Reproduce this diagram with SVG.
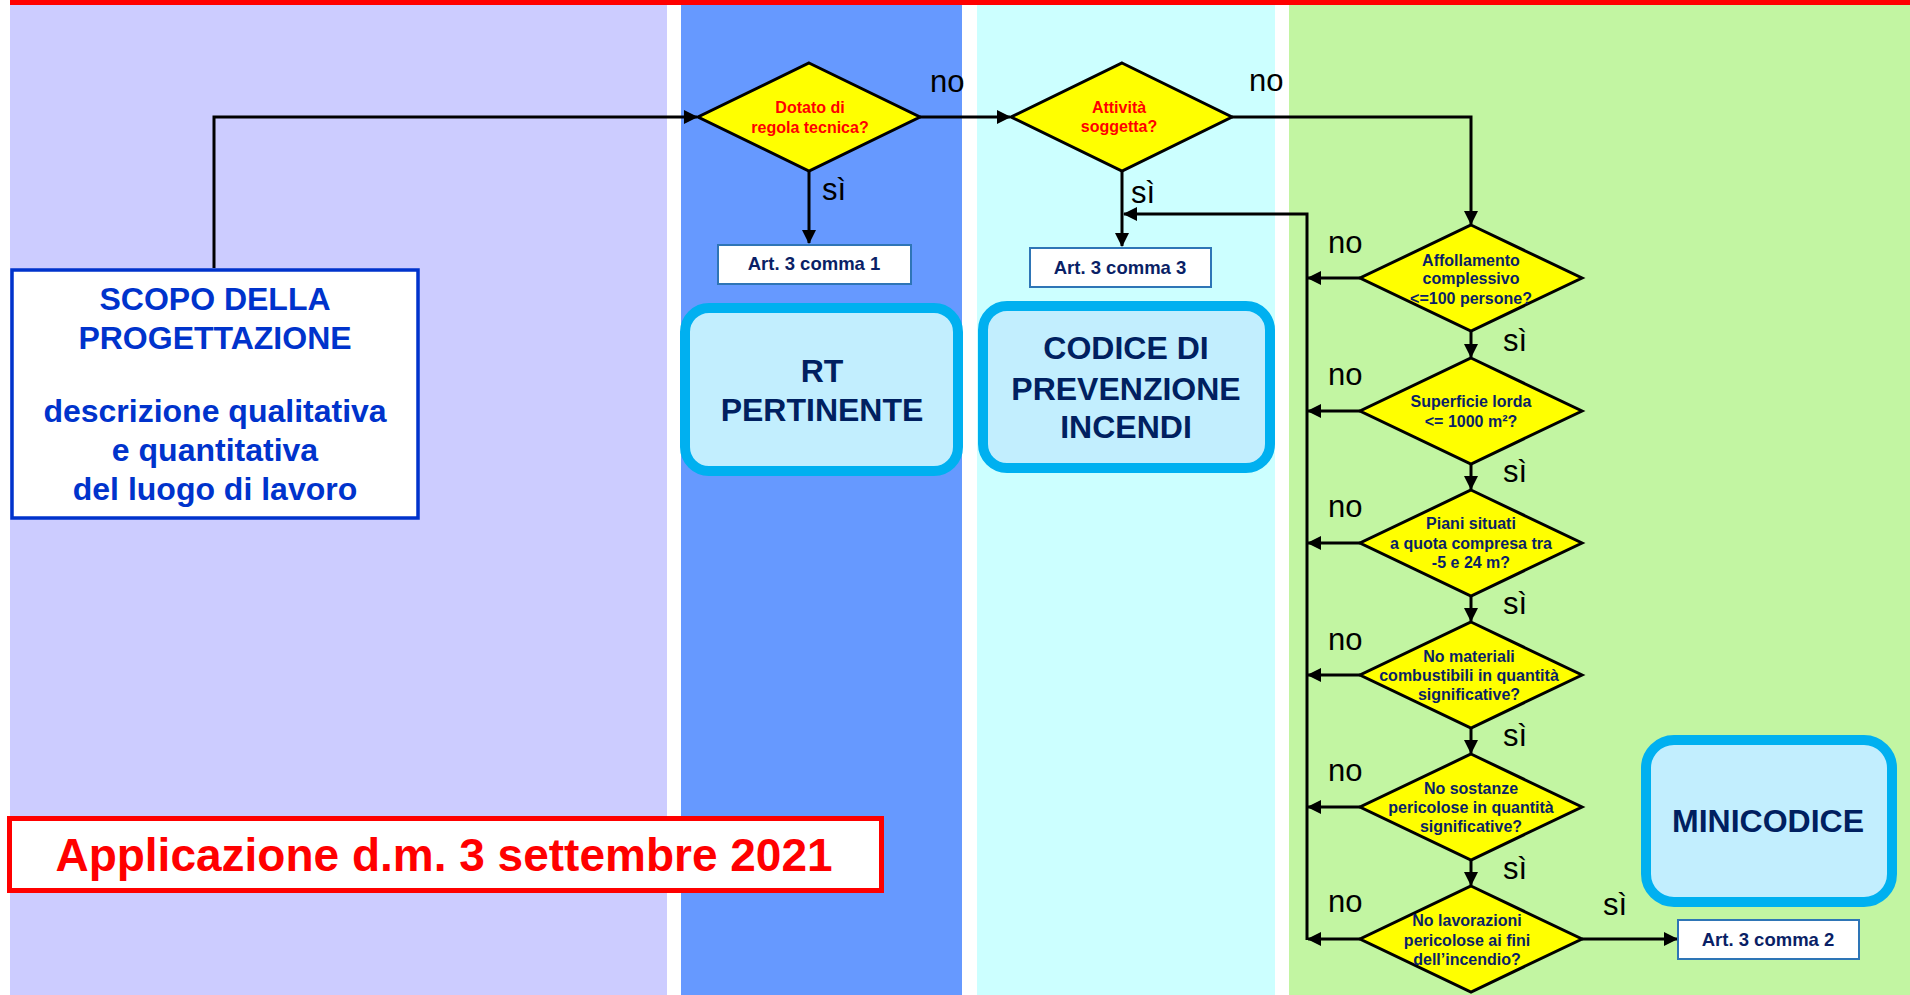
<svg xmlns="http://www.w3.org/2000/svg" width="1910" height="995" viewBox="0 0 1910 995">
<defs>
<marker id="arr" markerUnits="userSpaceOnUse" markerWidth="14" markerHeight="14" refX="13" refY="7" orient="auto">
<path d="M0,0 L14,7 L0,14 z" fill="#000"/>
</marker>
<style>
text{font-family:"Liberation Sans",Arial,sans-serif;}
.lbl{font-size:31px;fill:#000;}
.dq{font-size:16px;font-weight:bold;text-anchor:middle;fill:#0a1f66;}
.dr{font-size:16px;font-weight:bold;text-anchor:middle;fill:#ff0000;}
.dia{fill:#ffff00;stroke:#000;stroke-width:3;stroke-linejoin:miter;}
.art{fill:#fff;stroke:#2e75b6;stroke-width:2;}
.artt{font-size:18.5px;font-weight:bold;text-anchor:middle;fill:#0a1f66;}
.rb{fill:#c2eefe;stroke:#00b0f0;stroke-width:10;}
.rbt{font-size:32px;font-weight:bold;text-anchor:middle;fill:#002060;}
.con{fill:none;stroke:#000;stroke-width:3;}
.sc{font-size:32px;font-weight:bold;text-anchor:middle;fill:#0033cc;}
</style>
</defs>
<rect x="0" y="0" width="1910" height="995" fill="#fff"/>
<g id="panels">
<rect x="10" y="0" width="657" height="995" fill="#ccccff"/>
<rect x="681" y="0" width="281" height="995" fill="#6699ff"/>
<rect x="977" y="0" width="298" height="995" fill="#ccffff"/>
<rect x="1289" y="0" width="621" height="995" fill="#c2f5a2"/>
<rect x="10" y="0" width="1900" height="5" fill="#ff0000"/>
</g>
<g id="connectors">
<path class="con" d="M214,268 V117 H697" marker-end="url(#arr)"/>
<path class="con" d="M920,117 H1010" marker-end="url(#arr)"/>
<path class="con" d="M809,171 V243" marker-end="url(#arr)"/>
<path class="con" d="M1122,171 V246" marker-end="url(#arr)"/>
<path class="con" d="M1232,117 H1471 V224" marker-end="url(#arr)"/>
<path class="con" d="M1307,940 V214 H1124" marker-end="url(#arr)"/>
<path class="con" d="M1360,278 H1308" marker-end="url(#arr)"/>
<path class="con" d="M1360,411 H1308" marker-end="url(#arr)"/>
<path class="con" d="M1360,543 H1308" marker-end="url(#arr)"/>
<path class="con" d="M1360,675 H1308" marker-end="url(#arr)"/>
<path class="con" d="M1360,807 H1308" marker-end="url(#arr)"/>
<path class="con" d="M1360,939 H1308" marker-end="url(#arr)"/>
<path class="con" d="M1471,331 V357" marker-end="url(#arr)"/>
<path class="con" d="M1471,464 V489" marker-end="url(#arr)"/>
<path class="con" d="M1471,596 V621" marker-end="url(#arr)"/>
<path class="con" d="M1471,728 V753" marker-end="url(#arr)"/>
<path class="con" d="M1471,860 V885" marker-end="url(#arr)"/>
<path class="con" d="M1582,939 H1677" marker-end="url(#arr)"/>
<text class="lbl" x="930" y="92">no</text>
<text class="lbl" x="1249" y="91">no</text>
<text class="lbl" x="822" y="200">sì</text>
<text class="lbl" x="1131" y="203">sì</text>
<text class="lbl" x="1328" y="253">no</text>
<text class="lbl" x="1328" y="385">no</text>
<text class="lbl" x="1328" y="517">no</text>
<text class="lbl" x="1328" y="650">no</text>
<text class="lbl" x="1328" y="781">no</text>
<text class="lbl" x="1328" y="912">no</text>
<text class="lbl" x="1503" y="351">sì</text>
<text class="lbl" x="1503" y="482">sì</text>
<text class="lbl" x="1503" y="614">sì</text>
<text class="lbl" x="1503" y="746">sì</text>
<text class="lbl" x="1503" y="879">sì</text>
<text class="lbl" x="1603" y="915">sì</text>
</g>
<g id="scopo">
<rect x="12" y="270" width="406" height="248" fill="#fff" stroke="#0033cc" stroke-width="3.5"/>
<text class="sc" x="215" y="310">SCOPO DELLA</text>
<text class="sc" x="215" y="349">PROGETTAZIONE</text>
<text class="sc" x="215" y="422">descrizione qualitativa</text>
<text class="sc" x="215" y="461">e quantitativa</text>
<text class="sc" x="215" y="500">del luogo di lavoro</text>
</g>
<g id="applicazione">
<rect x="9.5" y="818.5" width="872" height="72" fill="#fff" stroke="#ff0000" stroke-width="5"/>
<text x="444" y="871" font-size="46" font-weight="bold" fill="#ff0000" text-anchor="middle">Applicazione d.m. 3 settembre 2021</text>
</g>
<g id="d1">
<polygon class="dia" points="809,63 920,117 809,171 698,117"/>
<text class="dr" x="810" y="113">Dotato di</text>
<text class="dr" x="810" y="133">regola tecnica?</text>
</g>
<g id="d2">
<polygon class="dia" points="1122,63 1232,117 1122,171 1011,117"/>
<text class="dr" x="1119" y="113">Attività</text>
<text class="dr" x="1119" y="132">soggetta?</text>
</g>
<g id="art1">
<rect class="art" x="718" y="245" width="193" height="39"/>
<text class="artt" x="814" y="270">Art. 3 comma 1</text>
</g>
<g id="art3">
<rect class="art" x="1030" y="248" width="181" height="39"/>
<text class="artt" x="1120" y="274">Art. 3 comma 3</text>
</g>
<g id="rt">
<rect class="rb" x="685" y="308" width="273" height="163" rx="24"/>
<text class="rbt" x="822" y="382">RT</text>
<text class="rbt" x="822" y="421">PERTINENTE</text>
</g>
<g id="codice">
<rect class="rb" x="983" y="306" width="287" height="162" rx="24"/>
<text class="rbt" x="1126" y="359">CODICE DI</text>
<text class="rbt" x="1126" y="400">PREVENZIONE</text>
<text class="rbt" x="1126" y="438">INCENDI</text>
</g>
<g id="d3">
<polygon class="dia" points="1471,225 1582,278 1471,331 1360,278"/>
<text class="dq" x="1471" y="266">Affollamento</text>
<text class="dq" x="1471" y="284">complessivo</text>
<text class="dq" x="1471" y="304">&lt;=100 persone?</text>
</g>
<g id="d4">
<polygon class="dia" points="1471,358 1582,411 1471,464 1360,411"/>
<text class="dq" x="1471" y="407">Superficie lorda</text>
<text class="dq" x="1471" y="427">&lt;= 1000 m²?</text>
</g>
<g id="d5">
<polygon class="dia" points="1471,490 1582,543 1471,596 1360,543"/>
<text class="dq" x="1471" y="529">Piani situati</text>
<text class="dq" x="1471" y="549">a quota compresa tra</text>
<text class="dq" x="1471" y="568">-5 e 24 m?</text>
</g>
<g id="d6">
<polygon class="dia" points="1471,622 1582,675 1471,728 1360,675"/>
<text class="dq" x="1469" y="662">No materiali</text>
<text class="dq" x="1469" y="681">combustibili  in quantità</text>
<text class="dq" x="1469" y="700">significative?</text>
</g>
<g id="d7">
<polygon class="dia" points="1471,754 1582,807 1471,860 1360,807"/>
<text class="dq" x="1471" y="794">No sostanze</text>
<text class="dq" x="1471" y="813">pericolose in quantità</text>
<text class="dq" x="1471" y="832">significative?</text>
</g>
<g id="d8">
<polygon class="dia" points="1471,886 1582,939 1471,992 1360,939"/>
<text class="dq" x="1467" y="926">No lavorazioni</text>
<text class="dq" x="1467" y="946">pericolose ai fini</text>
<text class="dq" x="1467" y="965">dell’incendio?</text>
</g>
<g id="minicodice">
<rect class="rb" x="1646" y="740" width="246" height="162" rx="28"/>
<text class="rbt" x="1768" y="832">MINICODICE</text>
</g>
<g id="art2">
<rect class="art" x="1678" y="920" width="181" height="39"/>
<text class="artt" x="1768" y="946">Art. 3 comma 2</text>
</g>
</svg>
